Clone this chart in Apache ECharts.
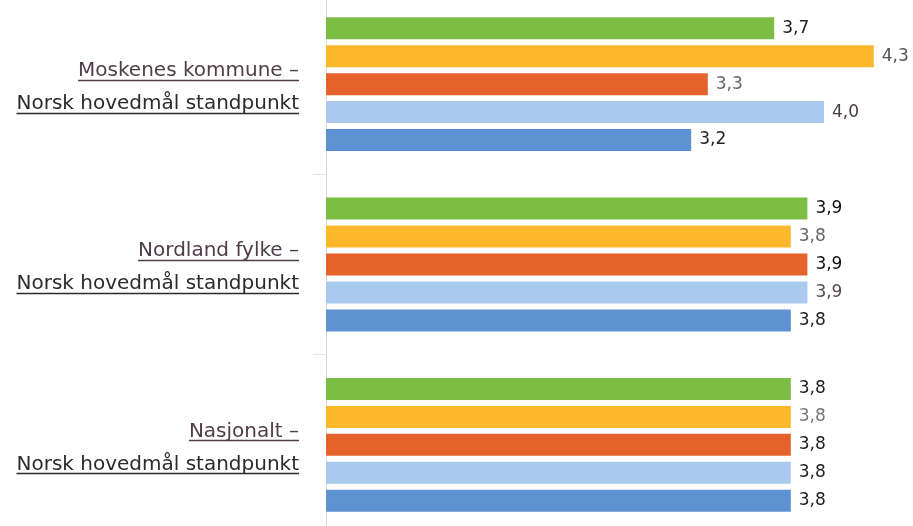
<!DOCTYPE html>
<html>
<head>
<meta charset="utf-8">
<script src="https://cdn.jsdelivr.net/npm/echarts@6/dist/echarts.min.js"></script>
<style>html,body{margin:0;padding:0;background:#fff;}#c{width:913px;height:526px;}</style>
</head>
<body>
<div id="c"></div>
<script>
// ---- data ----
const categoryLine1 = ['Moskenes kommune –', 'Nordland fylke –', 'Nasjonalt –'];
const categoryLine2 = ['Norsk hovedmål standpunkt', 'Norsk hovedmål standpunkt', 'Norsk hovedmål standpunkt'];
const categories = categoryLine1.map((a, i) => a + '\n' + categoryLine2[i]);
const series1 = [3.7, 3.9, 3.8];
const series2 = [4.3, 3.8, 3.8];
const series3 = [3.3, 3.9, 3.8];
const series4 = [4.0, 3.9, 3.8];
const series5 = [3.2, 3.8, 3.8];
const seriesValues = [series1, series2, series3, series4, series5];

// ---- styles ----
const colors = ['#7cbd44', '#fcb82a', '#e6622b', '#a9c9ee', '#5f92d2'];
const labelColors = [
  ['#222', '#111', '#222'],
  ['#555', '#666', '#777'],
  ['#666', '#111', '#222'],
  ['#4a3a45', '#5a4a55', '#222'],
  ['#222', '#222', '#222']
];
const FONT = 'DejaVu Sans';
const CAT_FS = 20;
const line1Color = '#4f3d47';
const line2Color = '#2e2a2c';
const LABEL_SHIFT = 3;

const chart = echarts.init(document.getElementById('c'), null, {renderer: 'canvas'});

const series = seriesValues.map((vals, si) => ({
  type: 'bar',
  name: 'S' + (si + 1),
  data: vals.map((v, ci) => ({
    value: v,
    label: {color: labelColors[si][ci]}
  })),
  barWidth: 22,
  barGap: '27%',
  itemStyle: {color: colors[si]},
  label: {
    show: true,
    position: 'right',
    distance: 8,
    fontFamily: FONT,
    fontSize: 17,
    formatter: p => p.value.toFixed(1).replace('.', ',')
  },
  animation: false
}));

chart.setOption({
  animation: false,
  grid: {left: 326, right: 6, top: -6, height: 541, containLabel: false, outerBoundsMode: 'none'},
  xAxis: {
    type: 'value', min: 1, max: 4.5, show: false
  },
  yAxis: {
    type: 'category',
    inverse: true,
    data: categories,
    axisLine: {show: true, lineStyle: {color: '#d9d9d9', width: 1}},
    axisTick: {show: true, length: 13, lineStyle: {color: '#e3e3e3'}},
    axisLabel: {
      margin: 27,
      padding: [LABEL_SHIFT * 2, 0, 0, 0],
      formatter: (v, i) => '{a|' + categoryLine1[i] + '}\n{b|' + categoryLine2[i] + '}',
      rich: {
        a: {fontFamily: FONT, fontSize: CAT_FS, color: line1Color, lineHeight: 33, align: 'right'},
        b: {fontFamily: FONT, fontSize: CAT_FS, color: line2Color, lineHeight: 33, align: 'right'}
      }
    }
  },
  series: series
});

// underline decorations for the category labels
const ctx = document.createElement('canvas').getContext('2d');
ctx.font = CAT_FS + 'px ' + FONT;
const xRight = chart.convertToPixel({xAxisIndex: 0}, 1) - 27;
const graphics = [];
categories.forEach((c, i) => {
  const cy = chart.convertToPixel({yAxisIndex: 0}, c) + LABEL_SHIFT;
  [[categoryLine1[i], cy - 16.5, line1Color], [categoryLine2[i], cy + 16.5, line2Color]].forEach(([t, y, col]) => {
    const w = ctx.measureText(t).width;
    const uy = Math.round(y + 9) + 0.5;
    graphics.push({
      type: 'line', silent: true,
      shape: {x1: xRight - w, y1: uy, x2: xRight, y2: uy},
      style: {stroke: col, lineWidth: 1.3}
    });
  });
});
chart.setOption({graphic: graphics});
</script>
</body>
</html>
